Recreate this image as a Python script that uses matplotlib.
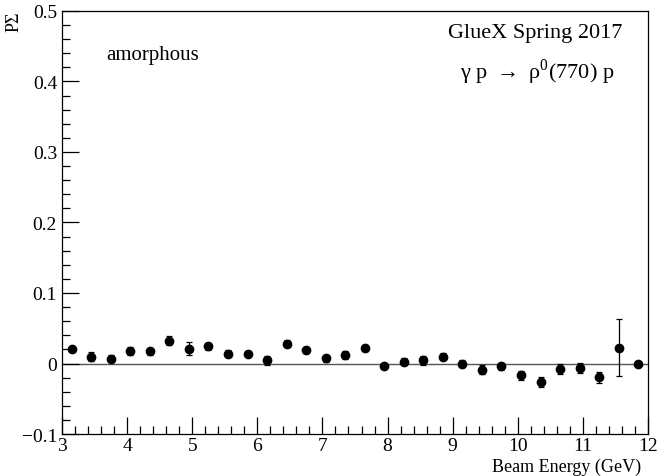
import numpy as np
import matplotlib.pyplot as plt
from matplotlib.ticker import MultipleLocator

plt.rcParams['font.family'] = ['Liberation Serif', 'DejaVu Serif']
plt.rcParams['mathtext.fontset'] = 'custom'
plt.rcParams['mathtext.rm'] = 'Liberation Serif'

# beam energy bin centres (GeV)
energy = [3.15, 3.45, 3.75, 4.05, 4.35, 4.65, 4.95, 5.25, 5.55, 5.85,
          6.15, 6.45, 6.75, 7.05, 7.35, 7.65, 7.95, 8.25, 8.55, 8.85,
          9.15, 9.45, 9.75, 10.05, 10.35, 10.65, 10.95, 11.25, 11.55, 11.85]
p_sigma = [0.021, 0.0095, 0.007, 0.0175, 0.0175, 0.0326, 0.021, 0.0246, 0.0137, 0.014,
           0.0043, 0.028, 0.019, 0.0076, 0.0123, 0.0213, -0.0038, 0.0028, 0.0043, 0.0095,
           -0.0005, -0.0085, -0.0038, -0.017, -0.0265, -0.008, -0.0061, -0.0194, 0.0227, 0.0]
p_sigma_err = [0.003, 0.0066, 0.005, 0.006, 0.005, 0.006, 0.0095, 0.005, 0.005, 0.004,
               0.006, 0.005, 0.004, 0.005, 0.006, 0.004, 0.003, 0.005, 0.006, 0.005,
               0.005, 0.006, 0.005, 0.006, 0.007, 0.007, 0.007, 0.008, 0.040, 0.0]

fig = plt.figure(figsize=(6.58, 4.77), dpi=100)
ax = fig.add_axes([0.0942, 0.088, 0.8906, 0.887])

ax.axhline(0, color='#555555', lw=1.0, zorder=1)
ax.errorbar(energy, p_sigma, yerr=p_sigma_err, fmt='o', color='black', ms=6,
            elinewidth=0.9, capsize=2, capthick=0.9, zorder=3)

ax.set_xlim(3, 12)
ax.set_ylim(-0.1, 0.5)
ax.xaxis.set_major_locator(MultipleLocator(1))
ax.xaxis.set_minor_locator(MultipleLocator(0.2))
ax.yaxis.set_major_locator(MultipleLocator(0.1))
ax.yaxis.set_minor_locator(MultipleLocator(0.02))
ax.tick_params(which='both', direction='in', top=False, right=False, labelsize=14)
ax.tick_params(which='major', length=12, width=0.9)
ax.tick_params(which='minor', length=6, width=0.9)
ax.tick_params(axis='x', pad=2)
ax.set_yticks([-0.1, 0, 0.1, 0.2, 0.3, 0.4, 0.5])
ax.set_yticklabels(['\u22120.1', '0', '0.1', '0.2', '0.3', '0.4', '0.5'])
for s in ax.spines.values():
    s.set_linewidth(0.9)

fig.text(0.975, 0.003, 'Beam Energy (GeV)', ha='right', va='bottom', fontsize=13)
fig.text(0.022, 0.975, 'P\u03a3', rotation=90, ha='center', va='top', fontsize=13)

ax.text(0.075, 0.898, 'amorphous', transform=ax.transAxes, fontsize=15, va='center')
ax.text(0.957, 0.950, 'GlueX Spring 2017', transform=ax.transAxes, fontsize=16,
        ha='right', va='center')
ax.text(0.943, 0.858, r'γ p $\rightarrow$ ρ$^{0}$(770) p', transform=ax.transAxes,
        fontsize=16, ha='right', va='center')

plt.savefig('out.png', dpi=100)
